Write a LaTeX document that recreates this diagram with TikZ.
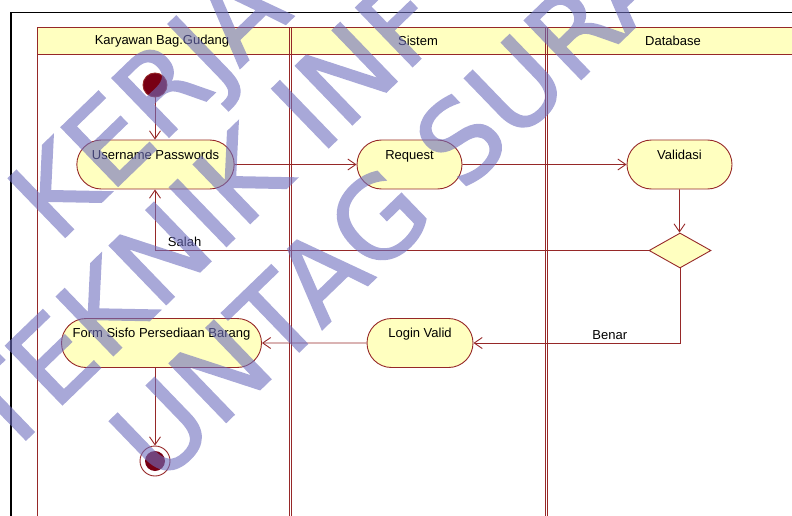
\documentclass[tikz,border=0pt]{standalone}
\usepackage{fontspec}
\setmainfont{Liberation Sans}
\newfontfamily\marcafont[FakeBold=1.5]{DejaVu Sans}
\usetikzlibrary{shapes.misc, shapes.geometric, arrows.meta, positioning}

\definecolor{linha}{RGB}{150,40,40}
\definecolor{fundo}{RGB}{255,255,192}
\definecolor{ponto}{RGB}{120,0,20}
\definecolor{marca}{RGB}{110,110,190}

\tikzset{
  acao/.style={rounded rectangle, draw=linha, fill=fundo, line width=0.9pt,
    minimum width=#1, text height=15pt, text depth=26pt, inner sep=4pt,
    text=black, font=\fontsize{13}{15}\selectfont},
  titulo/.style={font=\fontsize{13}{15}\selectfont, text=black},
  rotulo/.style={font=\fontsize{13}{15}\selectfont, text=black, above, inner sep=3pt},
  marcadagua/.style={rotate=44, anchor=base west, text=marca,
    font=\marcafont\fontsize{112}{112}\selectfont, inner sep=0pt}
}

\begin{document}
\begin{tikzpicture}[x=1pt, y=-1pt, > = {Straight Barb[length=8pt, width=11pt]}, line width=0.9pt]
  \useasboundingbox (0,0) rectangle (792,516);

  % moldura
  \draw[line width=2.5pt] (11,516) -- (11,12);
  \draw[line width=0.8pt] (10,12) -- (792,12);

  % raias
  \fill[fundo] (37,27) rectangle (792,54);
  \draw[linha] (37,516) -- (37,27) -- (792,27);
  \draw[linha] (37,54) -- (792,54);
  \foreach \x in {289,545} {
    \draw[linha] (\x,27) -- (\x,516);
    \draw[linha] (\x+2.5,27) -- (\x+2.5,516);
  }
  \node[titulo] (raia1) at (162,41) {Karyawan Bag.Gudang};
  \node[titulo] (raia2) at (418,41) {Sistem};
  \node[titulo] (raia3) at (673,41) {Database};

  % nos
  \node[circle, draw=linha, fill=ponto, minimum size=24pt, inner sep=0pt] (inicio) at (155,85) {};
  \node[acao=156pt] (login) at (155.5,164.5) {Username Passwords};
  \node[acao=113pt] (request) at (409.5,164.5) {Request};
  \node[acao=113pt] (validasi) at (679.5,164.5) {Validasi};
  \node[diamond, draw=linha, fill=fundo, minimum width=62pt, minimum height=35pt, inner sep=0pt] (cek) at (680,250.5) {};
  \node[acao=114pt] (valid) at (420,343) {Login Valid};
  \node[acao=208pt] (form) at (161.5,343) {Form Sisfo Persediaan Barang};
  \node[circle, draw=linha, fill=white, minimum size=30pt, inner sep=0pt] (fim) at (155,461) {};
  \node[circle, fill=ponto, minimum size=20pt, inner sep=0pt] (fimin) at (fim) {};

  % fluxos
  \draw[linha, ->] (inicio) -- (inicio |- login.north);
  \draw[linha, ->] (login) -- (request);
  \draw[linha, ->] (request) -- (validasi);
  \draw[linha, ->] (validasi) -- (validasi |- cek.north);
  \draw[linha, ->] (cek.west) -| (inicio |- login.south) node[rotulo, pos=0.47] {Salah};
  \draw[linha, ->] (cek.south) |- (valid.east) node[rotulo, pos=0.67] {Benar};
  \draw[linha, ->] (valid) -- (form);
  \draw[linha, ->] (fim |- form.south) -- (fim);

  % marca d'agua
  \begin{scope}[transparency group, opacity=0.6]
    \node[marcadagua] (marca1) at (57,245) {KERJA};
    \node[marcadagua] (marca2) at (5,460) {TEKNIK INF};
    \node[marcadagua] (marca3) at (159,487) {UNTAG SURA};
  \end{scope}
\end{tikzpicture}
\end{document}
